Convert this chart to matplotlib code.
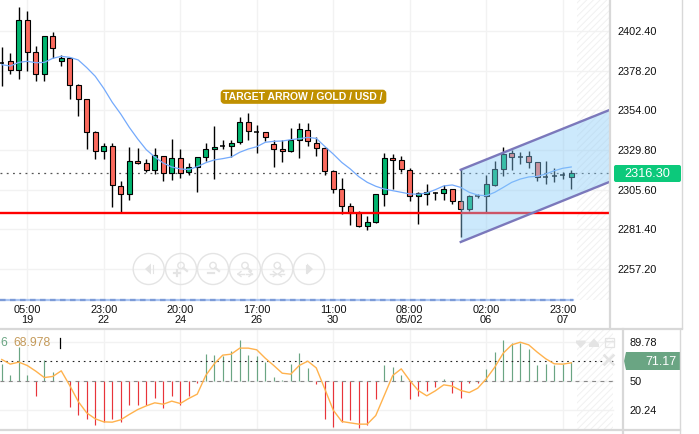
import matplotlib
matplotlib.use("Agg")
import matplotlib.pyplot as plt
from matplotlib.patches import Circle, FancyBboxPatch, Polygon, Rectangle

W, H = 699, 435

# candles, oldest first
opens = [2383.2, 2384.1, 2378.5, 2409.1, 2389.6, 2376.1, 2399.4, 2384.1, 2385.9, 2369.4,
         2360.8, 2340.6, 2329.0, 2332.0, 2307.6, 2302.7, 2322.8, 2321.6, 2317.8, 2325.9,
         2315.5, 2324.7, 2316.1, 2319.2, 2325.3, 2330.2, 2332.0, 2332.0, 2334.5, 2346.7,
         2340.6, 2340.6, 2333.3, 2330.6, 2329.0, 2336.1, 2341.8, 2333.9, 2330.8, 2316.7,
         2305.7, 2295.3, 2291.0, 2283.5, 2285.5, 2302.7, 2324.7, 2323.5, 2317.3, 2301.4,
         2302.7, 2303.3, 2303.3, 2305.7, 2298.4, 2293.5, 2301.4, 2301.4, 2308.6, 2318.0,
         2327.7, 2325.5, 2325.9, 2322.2, 2313.5, 2314.1, 2314.3, 2313.5]
highs = [2392.6, 2388.9, 2417.1, 2414.7, 2393.2, 2399.4, 2401.8, 2388.1, 2385.9, 2370.0,
         2360.8, 2341.2, 2333.9, 2333.9, 2310.6, 2331.4, 2330.8, 2324.1, 2330.8, 2325.9,
         2336.3, 2330.2, 2321.6, 2325.5, 2333.9, 2344.3, 2335.7, 2335.7, 2349.8, 2352.2,
         2345.1, 2340.6, 2336.1, 2336.1, 2343.5, 2346.1, 2346.1, 2337.5, 2331.4, 2317.8,
         2312.4, 2297.1, 2292.5, 2289.2, 2302.7, 2327.7, 2327.1, 2325.9, 2318.6, 2304.3,
         2308.8, 2304.3, 2308.4, 2305.9, 2318.2, 2302.2, 2302.9, 2314.5, 2323.3, 2331.4,
         2329.8, 2328.4, 2329.4, 2322.6, 2322.9, 2318.6, 2316.1, 2317.8]
lows = [2369.2, 2376.5, 2373.2, 2378.3, 2372.2, 2372.2, 2385.9, 2381.4, 2361.2, 2350.8,
        2330.4, 2324.3, 2324.3, 2295.1, 2291.0, 2299.0, 2321.0, 2316.1, 2315.1, 2311.0,
        2311.6, 2312.9, 2314.7, 2304.3, 2322.9, 2312.2, 2330.4, 2325.3, 2333.5, 2336.1,
        2328.0, 2335.5, 2319.6, 2322.6, 2328.4, 2324.9, 2332.4, 2326.3, 2314.5, 2303.7,
        2290.6, 2284.1, 2282.5, 2281.0, 2285.1, 2295.7, 2305.9, 2316.5, 2298.4, 2284.7,
        2296.3, 2299.4, 2299.4, 2296.9, 2276.7, 2292.7, 2300.2, 2291.0, 2307.6, 2314.1,
        2317.5, 2321.2, 2318.8, 2311.0, 2309.2, 2310.4, 2312.0, 2305.9]
closes = [2383.2, 2378.5, 2409.1, 2389.6, 2376.1, 2399.4, 2392.0, 2385.9, 2369.4, 2360.8,
          2340.6, 2329.0, 2332.0, 2308.2, 2302.7, 2322.8, 2321.6, 2317.8, 2326.5, 2315.5,
          2324.7, 2315.5, 2319.2, 2325.3, 2330.2, 2331.4, 2332.0, 2333.9, 2346.7, 2341.2,
          2340.6, 2337.5, 2330.6, 2329.0, 2336.1, 2342.4, 2335.1, 2330.8, 2316.7, 2305.7,
          2295.3, 2291.0, 2283.5, 2285.5, 2302.7, 2324.7, 2323.5, 2318.0, 2301.4, 2303.3,
          2303.9, 2303.3, 2305.7, 2298.4, 2293.5, 2301.4, 2301.4, 2308.8, 2318.0, 2327.1,
          2325.7, 2325.5, 2322.2, 2313.5, 2313.5, 2314.1, 2314.3, 2315.5]
ma_line = [2382.0, 2381.2, 2383.4, 2384.1, 2383.2, 2383.4, 2385.9, 2387.1, 2386.5, 2384.9,
           2380.2, 2374.9, 2367.5, 2359.0, 2351.8, 2343.7, 2336.5, 2330.0, 2325.5, 2321.8,
           2319.4, 2318.2, 2317.8, 2319.6, 2322.0, 2323.7, 2324.5, 2325.5, 2328.4, 2330.4,
           2331.8, 2334.5, 2335.1, 2335.3, 2336.1, 2336.7, 2337.5, 2336.9, 2332.0, 2327.3,
           2322.2, 2318.2, 2313.5, 2310.0, 2307.6, 2305.9, 2304.9, 2303.9, 2302.9, 2302.7,
           2303.5, 2305.5, 2307.8, 2308.4, 2306.9, 2303.9, 2302.2, 2301.8, 2303.9, 2306.9,
           2310.0, 2312.0, 2313.3, 2313.7, 2315.1, 2317.1, 2318.6, 2319.4]

# indicator pane
rsi_stems = [67.4, 56.2, 84.3, 56.2, 34.6, 70.8, 58.9, 49.8, 23.5, 15.4,
             12.0, 5.3, 8.3, 11.0, 8.6, 25.2, 25.2, 25.2, 32.3, 22.5,
             34.6, 25.2, 35.3, 48.1, 77.2, 76.5, 75.8, 79.9, 92.0, 76.5,
             75.2, 69.1, 53.9, 51.5, 67.1, 78.5, 63.3, 46.8, 12.0, 2.9,
             8.3, 10.0, 2.2, 5.9, 31.9, 66.4, 64.0, 56.2, 31.3, 34.3,
             39.4, 44.4, 51.9, 37.7, 32.6, 47.8, 48.1, 61.7, 79.2, 91.7,
             88.3, 88.3, 82.6, 66.4, 67.4, 66.7, 67.4, 69.1]
rsi_signal = [71.8, 67.1, 69.1, 65.7, 60.0, 53.5, 54.6, 60.3, 45.4, 29.2,
              17.7, 11.7, 8.6, 8.3, 10.7, 16.1, 21.1, 24.8, 27.9, 26.5,
              29.6, 27.2, 32.3, 36.7, 55.6, 67.4, 76.2, 77.2, 83.3, 83.3,
              81.6, 73.1, 65.7, 57.9, 56.9, 65.7, 70.1, 63.3, 42.1, 20.5,
              9.0, 7.6, 6.3, 6.3, 15.0, 35.3, 55.6, 62.3, 50.5, 40.4,
              35.0, 40.0, 46.1, 44.8, 40.4, 38.3, 42.7, 52.2, 64.0, 78.2,
              86.6, 89.3, 86.6, 79.2, 72.5, 67.4, 67.1, 68.4]

tick_idx = [3, 12, 21, 30, 39, 48, 57, 66]
tick_top = ["05:00", "23:00", "20:00", "17:00", "11:00", "08:00", "02:00", "23:00"]
tick_bot = ["19", "22", "24", "26", "30", "05/02", "06", "07"]
price_ticks = [2402.4, 2378.2, 2354.0, 2329.8, 2305.6, 2281.4, 2257.2]
rsi_ticks = [89.78, 50, 20.24]
support = 2291.3
last_price = 2316.3
last_line = 2315.6
channel_x = [54, 71.56]
channel_top = [2317.7, 2354.4]
channel_bot = [2273.5, 2310.4]

plt.rcParams["font.family"] = ["Liberation Sans", "DejaVu Sans"]
plt.rcParams["hatch.linewidth"] = 0.7
GRID = "#f2f2f2"
BORDER = "#d8d8d8"
ICON = "#e4e4e4"
UP, DOWN = "#00b56f", "#fb6a5e"
TXT = "#111111"

fig = plt.figure(figsize=(W / 100, H / 100), dpi=100)


def px_axes(x0, y0, x1, y1, **kw):
    # position given in image pixels, y going down
    return fig.add_axes([x0 / W, 1 - y1 / H, (x1 - x0) / W, (y1 - y0) / H], **kw)


def x_of(px):
    return (px - 1.75) / 8.5


# overlay in plain pixels for frames, buttons and labels
ov = px_axes(0, 0, W, H, zorder=5)
ov.set_xlim(0, W)
ov.set_ylim(H, 0)
ov.axis("off")
ov.patch.set_alpha(0)

# main pane
ax = px_axes(0, 0, 610, 329, zorder=2)
ax.set_xlim(x_of(0), x_of(610))
ax.set_ylim(2422.2 - 0.612 * 329, 2422.2)
for s in ax.spines.values():
    s.set_visible(False)
ax.tick_params(left=False, bottom=False, labelleft=False, labelbottom=False)
for t in tick_idx:
    ax.plot([t, t], [2422.2 - 0.612 * 301, 2422.2], color=GRID, lw=1, zorder=1)
for p in price_ticks:
    ax.axhline(p, color=GRID, lw=1, zorder=1)
ax.add_patch(Rectangle((x_of(577), 2422.2 - 0.612 * 301), x_of(610) - x_of(577), 0.612 * 301,
                       facecolor="none", edgecolor="#f1f1f1", hatch="/////", lw=0, zorder=1))

for i in range(len(opens)):
    ax.plot([i, i], [lows[i], highs[i]], color="black", lw=1.0, zorder=3, solid_capstyle="butt")
    col = UP if closes[i] >= opens[i] else DOWN
    bot = min(opens[i], closes[i])
    ht = abs(closes[i] - opens[i])
    if ht < 0.1:
        ax.plot([i - 0.3, i + 0.3], [bot, bot], color="black", lw=1.1, zorder=4, solid_capstyle="butt")
    else:
        ax.add_patch(Rectangle((i - 0.27, bot), 0.54, ht, facecolor=col, edgecolor="black", lw=0.8, zorder=4))

ax.plot(range(len(ma_line)), ma_line, color="#74aafc", lw=0.9, zorder=5)
ax.axhline(last_line, color="#555555", lw=0.9, dashes=(1.5, 3.5), zorder=2)
ax.axhline(support, color="#ff0000", lw=1.7, zorder=5)
ax.add_patch(Polygon([(channel_x[0], channel_top[0]), (channel_x[1], channel_top[1]),
                      (channel_x[1], channel_bot[1]), (channel_x[0], channel_bot[0])],
                     facecolor="#87cbf8", alpha=0.42, lw=0, zorder=6))
ax.plot(channel_x, channel_top, color="#7b78bb", lw=1.7, zorder=7)
ax.plot(channel_x, channel_bot, color="#7b78bb", lw=1.7, zorder=7)

# indicator pane
ax2 = px_axes(0, 331, 623, 431, zorder=2)
ax2.set_xlim(x_of(0), x_of(623))
ax2.set_ylim(50 - 1.013 * 49, 50 + 1.013 * 51)
for s in ax2.spines.values():
    s.set_visible(False)
ax2.tick_params(left=False, bottom=False, labelleft=False, labelbottom=False)
for t in tick_idx:
    ax2.axvline(t, color=GRID, lw=1, zorder=1)
for v in rsi_ticks:
    ax2.axhline(v, xmax=613 / 623, color=GRID, lw=1, zorder=1)
ax2.add_patch(Rectangle((x_of(577), 0.4), x_of(613) - x_of(577), 102, facecolor="none",
                        edgecolor="#f1f1f1", hatch="/////", lw=0, zorder=1))
for i, v in enumerate(rsi_stems):
    ax2.plot([i, i], [50, v], color="#6aa583" if v >= 50 else "#e8343a", lw=0.85, zorder=3,
             solid_capstyle="butt")
ax2.axhline(50, xmax=613 / 623, color="#888888", lw=0.8, dashes=(3.5, 4), zorder=4)
ax2.axhline(70, xmax=613 / 623, color="#222222", lw=0.8, dashes=(1.5, 3.5), zorder=4)
ax2.plot(range(len(rsi_signal)), rsi_signal, color="#ffb24d", lw=1.0, zorder=5)

# pane frames
ov.plot([0, 573], [301, 301], color="#a9c4f2", lw=1.6, zorder=2)
ov.plot([0, 573], [301, 301], color="#7d9bd6", lw=1.6, dashes=(2.5, 2), zorder=3)
ov.plot([610, 610], [0, 329], color=BORDER, lw=1.6)
ov.plot([681.5, 681.5], [0, 329], color=BORDER, lw=1)
ov.plot([0, 681.5], [329.5, 329.5], color=BORDER, lw=1.6)
ov.plot([623, 623], [330, 435], color=BORDER, lw=1.6)
ov.plot([679.5, 679.5], [330, 435], color=BORDER, lw=1)
ov.plot([0, 680], [431, 431], color=BORDER, lw=1.6)

# axis texts
for t, a, b in zip(tick_idx, tick_top, tick_bot):
    px = 1.75 + 8.5 * t
    ov.text(px, 310.5, a, ha="center", va="center", fontsize=7.9, color=TXT)
    ov.text(px, 320.5, b, ha="center", va="center", fontsize=7.9, color=TXT)
for p in price_ticks:
    ov.text(617, (2422.2 - p) / 0.612, "%.2f" % p, ha="left", va="center", fontsize=7.9, color=TXT)
for v, y in zip(["89.78", "50", "20.24"], [343, 382, 411.5]):
    ov.text(630, y, v, ha="left", va="center", fontsize=7.9, color=TXT)

# last price badges
ov.add_patch(FancyBboxPatch((614, 166), 67, 17, boxstyle="round,pad=0,rounding_size=2",
                            facecolor="#0cc97b", edgecolor="none"))
ov.text(647, 174.5, "%.2f" % last_price, ha="center", va="center", fontsize=9.2, color="white")
ov.add_patch(Polygon([(626, 353), (680, 353), (680, 371), (626, 371), (624, 362)],
                     facecolor="#6aa583", edgecolor="none"))
ov.text(676, 362, "71.17", ha="right", va="center", fontsize=8.9, color="white")

# title tag
ov.add_patch(FancyBboxPatch((221.5, 91.5), 164, 12.5, boxstyle="round,pad=0,rounding_size=3",
                            facecolor="#c09000", edgecolor="#c09000", lw=1.2))
ov.text(302.5, 97.5, "TARGET ARROW / GOLD / USD /", ha="center", va="center",
        fontsize=7.5, fontweight="bold", color="white")

# indicator legend
ov.text(0, 343.5, "6", ha="left", va="center", fontsize=8.8, color="#6aa583")
ov.text(13, 343.5, "68.978", ha="left", va="center", fontsize=8.8, color="#c49a5a")
ov.plot([59.5, 59.5], [339, 349], color="black", lw=0.9)

# zoom buttons
for cx in [148.7, 181, 213, 245, 277.3, 309]:
    ov.add_patch(Circle((cx, 270), 15.5, facecolor="none", edgecolor=ICON, lw=1.0))
ov.add_patch(Polygon([(145, 270), (151, 264.5), (151, 275.5)], facecolor=ICON, edgecolor="none"))
ov.plot([152.5, 152.5], [266, 274], color=ICON, lw=0.8)
ov.add_patch(Polygon([(313, 270), (307, 264.5), (307, 275.5)], facecolor=ICON, edgecolor="none"))
ov.plot([305.5, 305.5], [266, 274], color=ICON, lw=0.8)
for cx in [181, 213, 245, 277.3]:
    ov.add_patch(Circle((cx, 266.5), 3.2, facecolor="none", edgecolor=ICON, lw=1.0))
    ov.plot([cx + 2.3, cx + 6], [268.8, 272], color=ICON, lw=1.6)
ov.plot([174, 180], [274, 274], color=ICON, lw=1.6)
ov.plot([177, 177], [271, 277], color=ICON, lw=1.6)
ov.plot([208, 214], [274, 274], color=ICON, lw=1.6)
for cx, dirs in [(245, 1), (277.3, -1)]:
    ov.plot([cx - 7, cx - 1], [275, 275], color=ICON, lw=1.0)
    ov.plot([cx + 1, cx + 7], [275, 275], color=ICON, lw=1.0)
    ov.plot([cx - 4 - 3 * dirs, cx - 4], [275, 272.5], color=ICON, lw=1.0)
    ov.plot([cx - 4 - 3 * dirs, cx - 4], [275, 277.5], color=ICON, lw=1.0)
    ov.plot([cx + 4 + 3 * dirs, cx + 4], [275, 272.5], color=ICON, lw=1.0)
    ov.plot([cx + 4 + 3 * dirs, cx + 4], [275, 277.5], color=ICON, lw=1.0)

# pane icons
ov.add_patch(Polygon([(576, 341.5), (585.5, 341.5), (585.5, 344), (580.7, 349), (576, 344)],
                     facecolor=ICON, edgecolor="none"))
ov.add_patch(Polygon([(594, 339.5), (599, 345), (599, 348), (589, 348), (589, 345)],
                     facecolor=ICON, edgecolor="none"))
ov.add_patch(Rectangle((604.5, 339), 9, 9, facecolor="none", edgecolor=ICON, lw=0.9))
ov.plot([604.5, 613.5], [341.5, 341.5], color=ICON, lw=0.9)
ov.plot([604.5, 613.5], [356.5, 365.5], color=ICON, lw=1.8)
ov.plot([604.5, 613.5], [365.5, 356.5], color=ICON, lw=1.8)

fig.savefig("out.png", dpi=100)
